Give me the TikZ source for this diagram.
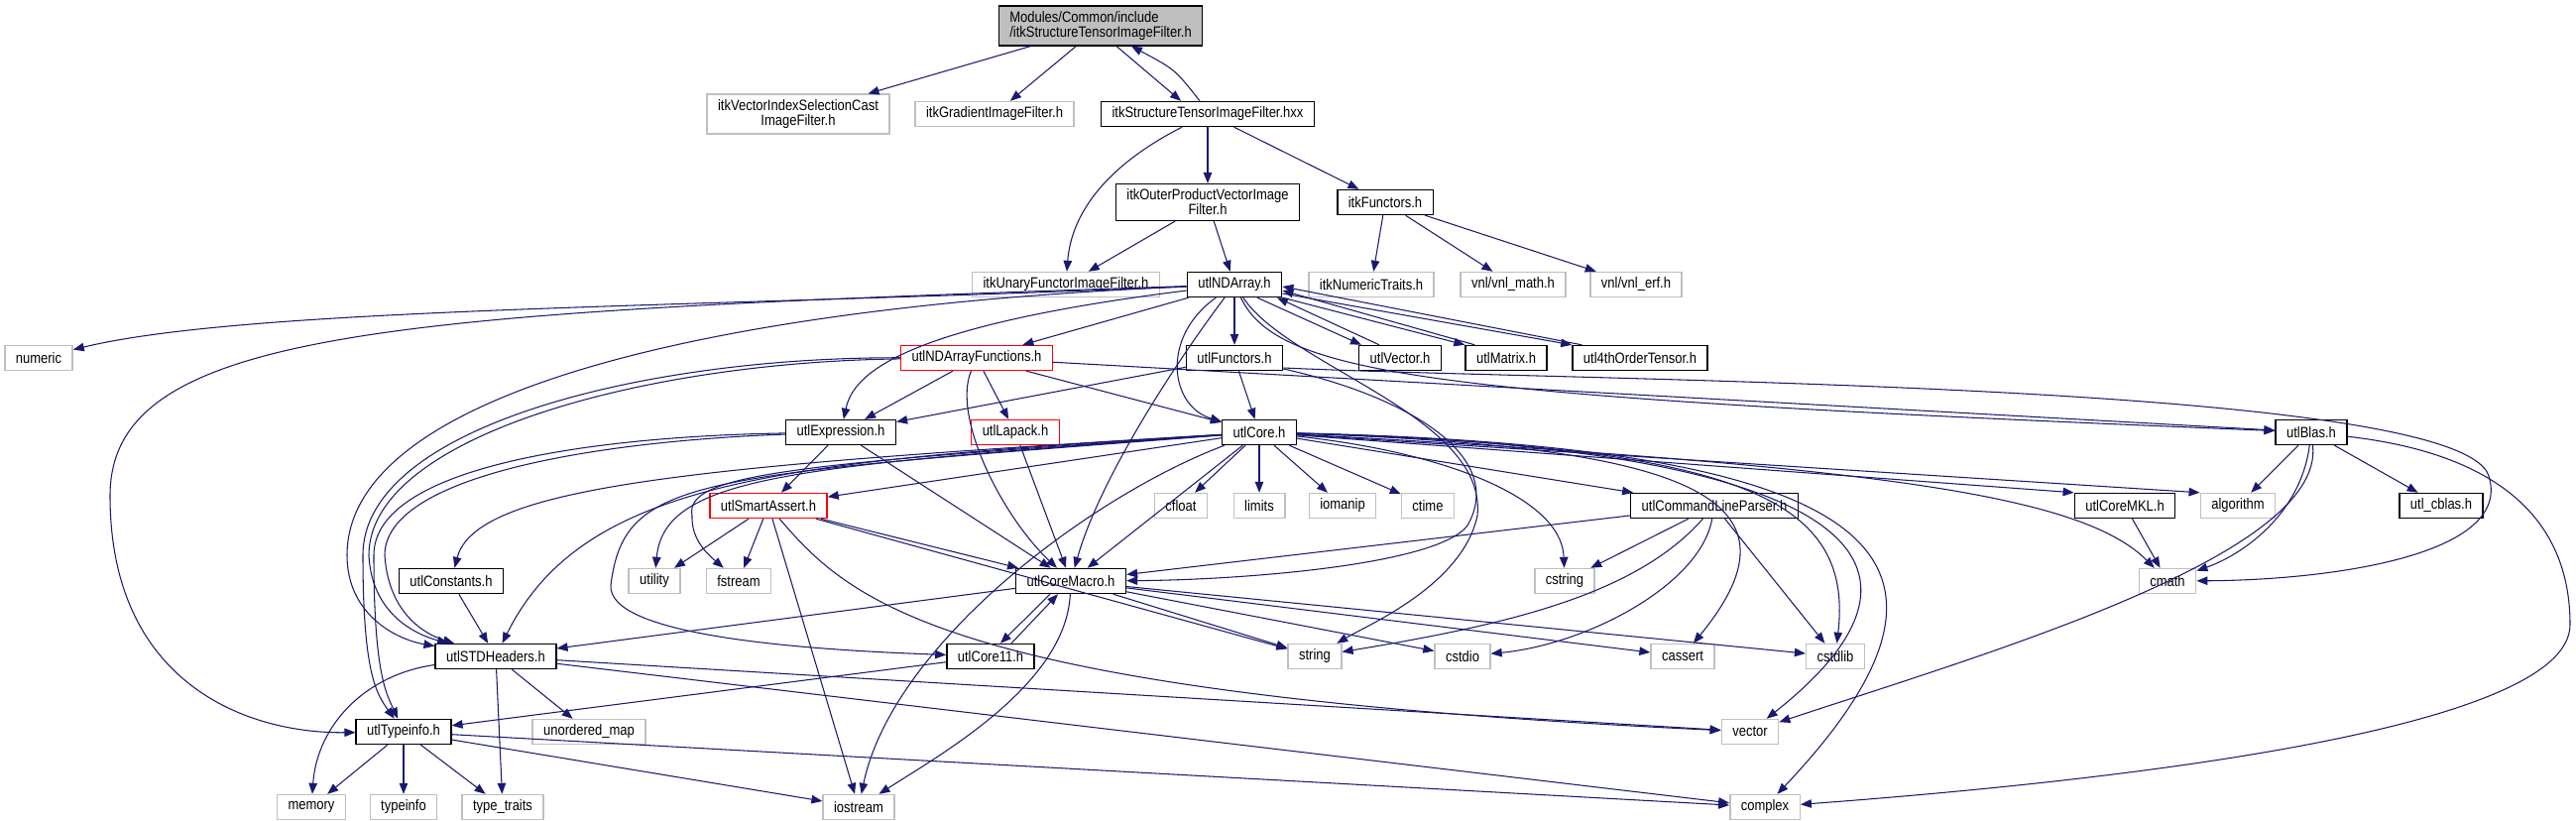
\documentclass[tikz,border=0pt]{standalone}
\usepackage{fontspec}
\setmainfont{Liberation Sans}[FakeStretch=0.86]
\usetikzlibrary{arrows.meta}
\definecolor{edgeBlue}{HTML}{191970}
\definecolor{sysGray}{HTML}{BFBFBF}

\begin{document}
\begin{tikzpicture}[x=0.2mm, y=-0.2mm,
    every node/.style={font=\fontsize{8.6}{8.5}\selectfont, inner xsep=2.2mm,
      inner ysep=1.07mm, minimum height=5mm, line width=0.8pt, align=center},
    hdr/.style={draw=black},
    sys/.style={draw=sysGray},
    bad/.style={draw=red},
    dep/.style={draw=edgeBlue, line width=0.6pt, -{Triangle[length=2.2mm, width=1.7mm]}}]
  \useasboundingbox (0,0) rectangle (2598,828);
  % file and itk headers
  \node[hdr, fill=sysGray, align=left] (root) at (1110,26) {Modules/Common/include\\/itkStructureTensorImageFilter.h};
  \node[sys] (vicast) at (805,115) {itkVectorIndexSelectionCast\\ImageFilter.h};
  \node[hdr] (outer) at (1218,204) {itkOuterProductVectorImage\\Filter.h};
  % name / x / y / label
  \foreach \n/\x/\y/\lbl in {hxx/1218/115/itkStructureTensorImageFilter.hxx,
      itkfun/1397/204/itkFunctors.h, ndarray/1245/287/utlNDArray.h,
      functors/1245/361/utlFunctors.h, uvector/1412/361/utlVector.h,
      umatrix/1519/361/utlMatrix.h, tensor/1654/361/utl4thOrderTensor.h,
      expr/848/436/utlExpression.h, core/1270/436/utlCore.h, blas/2331/436/utlBlas.h,
      cmdline/1729/510/utlCommandLineParser.h, coremkl/2143/510/utlCoreMKL.h,
      cblas/2462/510/utl\_cblas.h, constants/455/586/utlConstants.h,
      coremacro/1080/586/utlCoreMacro.h, stdh/500/662/utlSTDHeaders.h,
      core11/999/662/utlCore11.h, typeinfoh/407/738/utlTypeinfo.h}
    \node[hdr] (\n) at (\x,\y) {\lbl};
  \foreach \n/\x/\y/\lbl in {ndfun/985/361/utlNDArrayFunctions.h,
      lapack/1024/436/utlLapack.h, smart/775/510/utlSmartAssert.h}
    \node[bad] (\n) at (\x,\y) {\lbl};
  \foreach \n/\x/\y/\lbl in {grad/1003/115/itkGradientImageFilter.h,
      unary/1075/287/itkUnaryFunctorImageFilter.h, numtr/1383/287/itkNumericTraits.h,
      vnlmath/1526/287/{vnl/vnl\_math.h}, vnlerf/1650/287/{vnl/vnl\_erf.h},
      numeric/39/361/numeric, cfloat/1191/510/cfloat, limits/1270/510/limits,
      iomanip/1354/510/iomanip, ctime/1440/510/ctime, algorithm/2257/510/algorithm,
      utility/660/586/utility, fstream/745/586/fstream, cstring/1578/586/cstring,
      cmath/2186/586/cmath, string/1326/662/string, cstdio/1475/662/cstdio,
      cassert/1697/662/cassert, cstdlib/1851/662/cstdlib, umap/594/738/unordered\_map,
      vector/1765/738/vector, memory/314/814/memory, typeinfo/407/814/typeinfo,
      typetraits/507/814/type\_traits, iostream/866/814/iostream, complex/1780/814/complex}
    \node[sys] (\n) at (\x,\y) {\lbl};

  % straight includes
  \foreach \a/\b in {root/vicast, root/grad, hxx/outer, hxx/itkfun, outer/unary,
      outer/ndarray, itkfun/numtr, itkfun/vnlmath, itkfun/vnlerf, ndarray/ndfun,
      ndarray/functors, ndfun/expr, ndfun/lapack, ndfun/core, ndfun/blas,
      functors/expr, functors/core, expr/smart, expr/coremacro, lapack/coremacro,
      core/cfloat, core/limits, core/iomanip, core/ctime, core/cmdline, core/smart,
      core/coremacro, cmdline/coremacro, cmdline/cstring, cmdline/cstdlib,
      coremkl/cmath, blas/algorithm, blas/cblas, smart/utility, smart/fstream,
      smart/iostream, smart/coremacro, smart/string, constants/stdh, coremacro/stdh,
      coremacro/string, coremacro/cstdio, coremacro/cassert, coremacro/cstdlib,
      core11/typeinfoh, stdh/umap, stdh/typetraits, stdh/vector, stdh/complex,
      typeinfoh/memory, typeinfoh/typeinfo, typeinfoh/typetraits,
      typeinfoh/iostream, typeinfoh/complex}
    \draw[dep] (\a) -- (\b);
  \draw[dep] (core) -- (coremkl.north west);
  \draw[dep] (core) -- (algorithm.north west);

  % cycles
  \draw[dep] ([xshift=3.2mm]root.south) -- ([xshift=-5.4mm]hxx.north);
  \draw[dep] ([xshift=-1.6mm]hxx.north) .. controls (1185,70) .. ([xshift=6.2mm]root.south);
  \draw[dep] ([xshift=4.6mm]ndarray.south) -- ([xshift=-7.8mm]uvector.north);
  \draw[dep] ([xshift=-4.2mm]uvector.north) -- ([xshift=8.6mm]ndarray.south);
  \draw[dep] (ndarray.south east) -- (umatrix.north west);
  \draw[dep] ([xshift=2mm]umatrix.north west) -- ([yshift=-1.2mm]ndarray.east);
  \draw[dep] ([yshift=-1.8mm]ndarray.east) -- (tensor.north west);
  \draw[dep] ([xshift=2mm]tensor.north west) -- ([yshift=-0.4mm]ndarray.east);
  \draw[dep] ([xshift=-4.2mm]coremacro.south) -- ([xshift=2mm]core11.north);
  \draw[dep] ([xshift=4.2mm]core11.north) -- ([xshift=-2.6mm]coremacro.south);

  % curved includes
  \draw[dep] (hxx) .. controls (1110,170) and (1080,220) .. (unary);
  \draw[dep] (ndarray) .. controls (1170,340) and (1180,410) .. (core);
  \draw[dep] (ndarray) .. controls (1190,360) and (1110,480) .. (coremacro);
  \draw[dep] (ndarray) .. controls (900,330) and (860,380) .. (expr);
  \draw[dep] (ndarray) .. controls (700,310) and (250,310) .. (numeric);
  \draw[dep] (ndarray) .. controls (400,315) and (111,330) .. (111,500)
    .. controls (111,690) and (250,740) .. (typeinfoh);
  \draw[dep] (ndarray) .. controls (700,310) and (350,400) .. (350,560)
    .. controls (350,620) and (400,645) .. (stdh);
  \draw[dep] (ndfun) .. controls (650,360) and (366,430) .. (366,560)
    .. controls (366,680) and (380,700) .. (typeinfoh);
  \draw[dep] (ndfun) .. controls (650,365) and (372,440) .. (372,560)
    .. controls (375,620) and (420,640) .. (stdh);
  \draw[dep] (expr) .. controls (600,440) and (377,470) .. (377,560)
    .. controls (377,680) and (390,700) .. (typeinfoh);
  \draw[dep] (expr) .. controls (600,445) and (388,480) .. (388,560)
    .. controls (392,620) and (430,640) .. (stdh);
  \draw[dep] (ndarray) .. controls (1290,380) and (1450,400) .. (blas);
  \draw[dep] ([yshift=-2mm]functors.east) .. controls (1600,385) and (2480,385) .. (2510,480)
    .. controls (2535,560) and (2350,585) .. (cmath);
  \draw[dep] (functors) .. controls (1420,400) and (1520,460) .. (1480,530)
    .. controls (1450,570) and (1250,585) .. (coremacro);
  \draw[dep] (ndarray) .. controls (1300,370) and (1500,420) .. (1490,520)
    .. controls (1475,590) and (1380,630) .. (string);
  \draw[dep] (ndfun) .. controls (960,420) and (1010,520) .. (coremacro);
  \draw[dep] (core) .. controls (1900,470) and (2100,500) .. (cmath);
  \draw[dep] (core) .. controls (800,465) and (590,480) .. (stdh);
  \draw[dep] (core) .. controls (700,470) and (480,490) .. (constants);
  \draw[dep] (core) .. controls (700,480) and (630,480) .. (616,590)
    .. controls (612,640) and (800,655) .. (core11);
  \draw[dep] (core) .. controls (800,470) and (670,480) .. (utility);
  \draw[dep] (core) .. controls (800,468) and (690,478) .. (698,520)
    .. controls (697,545) and (715,560) .. (fstream);
  \draw[dep] (core) .. controls (1100,500) and (900,650) .. (iostream);
  \draw[dep] (core) .. controls (1450,455) and (1575,500) .. (cstring);
  \draw[dep] (core) .. controls (1700,450) and (1830,500) .. (cassert);
  \draw[dep] (core) .. controls (1750,450) and (1870,500) .. (cstdlib);
  \draw[dep] (core) .. controls (1850,450) and (1990,560) .. (vector);
  \draw[dep] (core) .. controls (1900,450) and (2020,560) .. (complex);
  \draw[dep] (cmdline) .. controls (1650,600) and (1520,630) .. (string);
  \draw[dep] (cmdline) .. controls (1715,590) and (1600,650) .. (cstdio);
  \draw[dep] (coremacro) .. controls (1075,690) and (950,760) .. (iostream);
  \draw[dep] (smart) .. controls (860,610) and (960,700) .. (vector);
  \draw[dep] (blas) .. controls (2320,520) and (2260,560) .. (cmath);
  \draw[dep] (blas) .. controls (2345,560) and (2000,660) .. (vector);
  \draw[dep] (blas) .. controls (2540,460) and (2592,540) .. (2592,630)
    .. controls (2592,740) and (2100,790) .. (complex);
  \draw[dep] (stdh) .. controls (370,680) and (320,730) .. (memory);
\end{tikzpicture}
\end{document}
